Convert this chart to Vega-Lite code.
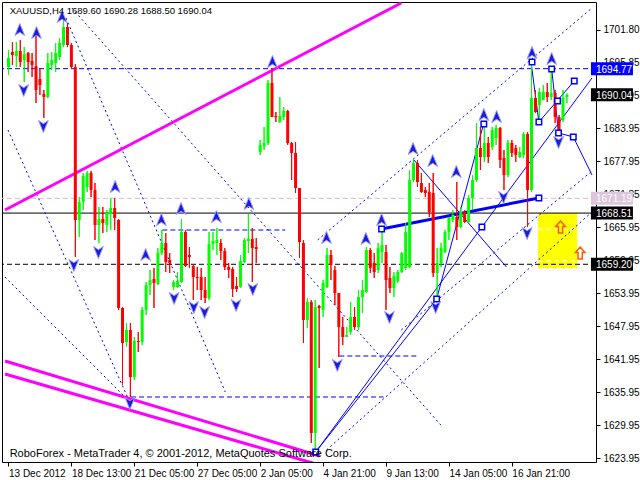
{
  "$schema": "https://vega.github.io/schema/vega-lite/v6.json",
  "width": 594,
  "height": 460,
  "autosize": {"type": "none"},
  "padding": {"left": 2, "top": 2, "right": 44, "bottom": 18},
  "background": "white",
  "config": {"view": {"stroke": "black", "strokeWidth": 1}},
  "resolve": {"axis": {"x": "independent", "y": "independent"}},
  "datasets": {
    "candles": [
      {"i":0,"o":1695.07,"h":1698.16,"l":1693.61,"c":1696.70},
      {"i":1,"o":1697.80,"h":1699.61,"l":1695.43,"c":1697.25},
      {"i":2,"o":1697.07,"h":1699.61,"l":1695.07,"c":1697.98},
      {"i":3,"o":1697.98,"h":1699.98,"l":1695.07,"c":1695.98},
      {"i":4,"o":1696.34,"h":1698.70,"l":1692.34,"c":1697.43},
      {"i":5,"o":1697.61,"h":1697.80,"l":1694.16,"c":1695.98},
      {"i":6,"o":1696.16,"h":1697.61,"l":1693.25,"c":1695.43},
      {"i":7,"o":1695.25,"h":1701.25,"l":1688.52,"c":1690.89},
      {"i":8,"o":1692.89,"h":1694.89,"l":1689.98,"c":1691.80},
      {"i":9,"o":1690.16,"h":1690.89,"l":1685.80,"c":1689.61},
      {"i":10,"o":1689.61,"h":1697.61,"l":1689.40,"c":1695.80},
      {"i":11,"o":1695.43,"h":1697.80,"l":1694.52,"c":1696.34},
      {"i":12,"o":1695.80,"h":1699.43,"l":1694.16,"c":1697.61},
      {"i":13,"o":1696.89,"h":1700.34,"l":1696.34,"c":1699.43},
      {"i":14,"o":1699.07,"h":1703.60,"l":1698.70,"c":1702.34},
      {"i":15,"o":1702.34,"h":1703.07,"l":1698.70,"c":1699.07},
      {"i":16,"o":1699.07,"h":1699.43,"l":1694.89,"c":1695.07},
      {"i":17,"o":1695.07,"h":1695.60,"l":1660.52,"c":1667.25},
      {"i":18,"o":1667.25,"h":1671.43,"l":1664.16,"c":1670.52},
      {"i":19,"o":1670.52,"h":1675.80,"l":1669.07,"c":1675.25},
      {"i":20,"o":1673.25,"h":1676.16,"l":1672.34,"c":1675.80},
      {"i":21,"o":1675.80,"h":1676.16,"l":1671.43,"c":1672.70},
      {"i":22,"o":1672.70,"h":1673.98,"l":1663.61,"c":1666.34},
      {"i":23,"o":1666.34,"h":1669.61,"l":1663.07,"c":1667.43},
      {"i":24,"o":1667.43,"h":1669.61,"l":1664.89,"c":1666.70},
      {"i":25,"o":1666.34,"h":1669.07,"l":1665.07,"c":1668.52},
      {"i":26,"o":1668.34,"h":1671.25,"l":1665.43,"c":1669.43},
      {"i":27,"o":1669.43,"h":1671.25,"l":1665.43,"c":1667.61},
      {"i":28,"o":1667.25,"h":1667.43,"l":1650.89,"c":1651.25},
      {"i":29,"o":1651.25,"h":1651.43,"l":1637.25,"c":1644.89},
      {"i":30,"o":1645.07,"h":1648.52,"l":1644.16,"c":1647.25},
      {"i":31,"o":1647.25,"h":1648.52,"l":1635.07,"c":1638.70},
      {"i":32,"o":1638.70,"h":1645.98,"l":1638.16,"c":1645.25},
      {"i":33,"o":1645.25,"h":1646.89,"l":1643.25,"c":1645.07},
      {"i":34,"o":1645.07,"h":1651.43,"l":1644.52,"c":1650.89},
      {"i":35,"o":1650.89,"h":1655.98,"l":1649.98,"c":1655.43},
      {"i":36,"o":1655.43,"h":1658.16,"l":1653.61,"c":1656.34},
      {"i":37,"o":1656.52,"h":1658.52,"l":1651.25,"c":1655.80},
      {"i":38,"o":1655.61,"h":1662.16,"l":1655.43,"c":1661.25},
      {"i":39,"o":1661.25,"h":1665.43,"l":1660.89,"c":1663.07},
      {"i":40,"o":1663.07,"h":1664.89,"l":1657.80,"c":1659.61},
      {"i":41,"o":1659.98,"h":1661.25,"l":1657.61,"c":1659.43},
      {"i":42,"o":1655.07,"h":1656.34,"l":1654.52,"c":1655.98},
      {"i":43,"o":1655.07,"h":1657.80,"l":1654.89,"c":1656.16},
      {"i":44,"o":1655.98,"h":1667.43,"l":1655.80,"c":1665.07},
      {"i":45,"o":1665.07,"h":1665.43,"l":1658.70,"c":1658.89},
      {"i":46,"o":1660.89,"h":1662.34,"l":1658.52,"c":1660.52},
      {"i":47,"o":1658.89,"h":1659.07,"l":1652.70,"c":1656.89},
      {"i":48,"o":1656.89,"h":1658.70,"l":1654.52,"c":1656.70},
      {"i":49,"o":1656.89,"h":1658.52,"l":1652.70,"c":1654.52},
      {"i":50,"o":1654.52,"h":1656.89,"l":1652.16,"c":1653.07},
      {"i":51,"o":1653.07,"h":1665.07,"l":1652.70,"c":1662.89},
      {"i":52,"o":1662.89,"h":1665.07,"l":1661.80,"c":1663.43},
      {"i":53,"o":1663.07,"h":1665.80,"l":1660.89,"c":1663.61},
      {"i":54,"o":1663.07,"h":1663.80,"l":1659.98,"c":1661.61},
      {"i":55,"o":1661.61,"h":1662.16,"l":1658.16,"c":1658.70},
      {"i":56,"o":1658.70,"h":1659.43,"l":1656.70,"c":1658.16},
      {"i":57,"o":1658.34,"h":1658.70,"l":1653.25,"c":1654.70},
      {"i":58,"o":1655.25,"h":1656.89,"l":1654.16,"c":1654.70},
      {"i":59,"o":1655.07,"h":1660.89,"l":1654.89,"c":1659.80},
      {"i":60,"o":1659.61,"h":1663.98,"l":1659.43,"c":1663.61},
      {"i":61,"o":1663.43,"h":1668.34,"l":1661.25,"c":1663.80},
      {"i":62,"o":1663.80,"h":1665.80,"l":1655.98,"c":1662.16},
      {"i":63,"o":1662.34,"h":1663.98,"l":1659.43,"c":1661.98},
      {"i":64,"o":1679.61,"h":1681.80,"l":1679.07,"c":1680.89},
      {"i":65,"o":1680.70,"h":1684.16,"l":1679.98,"c":1681.25},
      {"i":66,"o":1681.25,"h":1692.70,"l":1680.89,"c":1692.16},
      {"i":67,"o":1692.16,"h":1694.89,"l":1685.98,"c":1685.98},
      {"i":68,"o":1686.16,"h":1686.89,"l":1685.07,"c":1685.98},
      {"i":69,"o":1685.07,"h":1689.61,"l":1684.89,"c":1686.16},
      {"i":70,"o":1685.98,"h":1687.80,"l":1685.43,"c":1687.07},
      {"i":71,"o":1687.07,"h":1687.25,"l":1680.89,"c":1681.25},
      {"i":72,"o":1681.25,"h":1681.43,"l":1674.52,"c":1679.43},
      {"i":73,"o":1679.43,"h":1681.43,"l":1672.16,"c":1673.07},
      {"i":74,"o":1673.07,"h":1673.07,"l":1660.34,"c":1663.25},
      {"i":75,"o":1663.07,"h":1663.61,"l":1644.89,"c":1649.07},
      {"i":76,"o":1649.07,"h":1653.07,"l":1647.61,"c":1652.34},
      {"i":77,"o":1652.34,"h":1652.70,"l":1626.70,"c":1628.52},
      {"i":78,"o":1628.52,"h":1652.70,"l":1625.43,"c":1651.43},
      {"i":79,"o":1651.61,"h":1651.80,"l":1640.34,"c":1651.25},
      {"i":80,"o":1650.89,"h":1656.34,"l":1649.61,"c":1655.80},
      {"i":81,"o":1655.07,"h":1662.16,"l":1654.89,"c":1660.89},
      {"i":82,"o":1660.89,"h":1661.80,"l":1656.34,"c":1659.07},
      {"i":83,"o":1658.16,"h":1658.89,"l":1651.80,"c":1653.98},
      {"i":84,"o":1653.98,"h":1653.98,"l":1642.34,"c":1647.80},
      {"i":85,"o":1647.80,"h":1649.61,"l":1644.52,"c":1645.98},
      {"i":86,"o":1645.98,"h":1647.80,"l":1645.98,"c":1646.34},
      {"i":87,"o":1646.89,"h":1652.34,"l":1646.34,"c":1649.61},
      {"i":88,"o":1649.61,"h":1651.43,"l":1647.25,"c":1647.80},
      {"i":89,"o":1647.80,"h":1654.52,"l":1647.25,"c":1653.25},
      {"i":90,"o":1653.25,"h":1656.34,"l":1650.34,"c":1654.52},
      {"i":91,"o":1654.16,"h":1662.34,"l":1653.98,"c":1661.80},
      {"i":92,"o":1661.80,"h":1662.16,"l":1657.61,"c":1658.52},
      {"i":93,"o":1659.43,"h":1661.25,"l":1656.70,"c":1657.80},
      {"i":94,"o":1658.16,"h":1663.07,"l":1657.61,"c":1662.16},
      {"i":95,"o":1661.43,"h":1665.43,"l":1659.43,"c":1662.70},
      {"i":96,"o":1661.43,"h":1662.70,"l":1650.89,"c":1656.34},
      {"i":97,"o":1656.70,"h":1658.70,"l":1653.98,"c":1654.89},
      {"i":98,"o":1654.89,"h":1657.80,"l":1653.25,"c":1657.07},
      {"i":99,"o":1656.16,"h":1658.16,"l":1655.80,"c":1657.80},
      {"i":100,"o":1657.80,"h":1661.43,"l":1657.61,"c":1661.25},
      {"i":101,"o":1658.52,"h":1666.70,"l":1658.16,"c":1665.07},
      {"i":102,"o":1658.70,"h":1676.34,"l":1658.52,"c":1674.52},
      {"i":103,"o":1674.52,"h":1678.34,"l":1674.16,"c":1677.61},
      {"i":104,"o":1677.61,"h":1678.16,"l":1673.25,"c":1674.16},
      {"i":105,"o":1673.98,"h":1675.80,"l":1672.16,"c":1672.34},
      {"i":106,"o":1672.70,"h":1673.25,"l":1671.43,"c":1672.16},
      {"i":107,"o":1672.34,"h":1673.98,"l":1667.80,"c":1668.70},
      {"i":108,"o":1672.16,"h":1675.80,"l":1656.89,"c":1657.61},
      {"i":109,"o":1657.61,"h":1662.16,"l":1653.25,"c":1659.43},
      {"i":110,"o":1659.43,"h":1663.07,"l":1658.70,"c":1662.16},
      {"i":111,"o":1661.43,"h":1665.43,"l":1661.25,"c":1665.07},
      {"i":112,"o":1665.07,"h":1667.80,"l":1663.61,"c":1667.61},
      {"i":113,"o":1667.25,"h":1669.07,"l":1666.89,"c":1668.16},
      {"i":114,"o":1667.80,"h":1674.16,"l":1663.61,"c":1665.98},
      {"i":115,"o":1665.98,"h":1669.61,"l":1665.80,"c":1668.70},
      {"i":116,"o":1668.70,"h":1669.07,"l":1666.70,"c":1666.89},
      {"i":117,"o":1666.89,"h":1671.80,"l":1666.70,"c":1671.25},
      {"i":118,"o":1671.25,"h":1675.43,"l":1669.07,"c":1674.52},
      {"i":119,"o":1674.52,"h":1684.89,"l":1674.16,"c":1680.34},
      {"i":120,"o":1680.34,"h":1684.16,"l":1676.34,"c":1678.70},
      {"i":121,"o":1678.70,"h":1684.16,"l":1677.80,"c":1681.25},
      {"i":122,"o":1681.25,"h":1682.34,"l":1677.61,"c":1678.70},
      {"i":123,"o":1680.52,"h":1684.16,"l":1679.98,"c":1683.61},
      {"i":124,"o":1682.16,"h":1684.52,"l":1680.89,"c":1683.98},
      {"i":125,"o":1683.98,"h":1684.16,"l":1676.70,"c":1678.16},
      {"i":126,"o":1678.52,"h":1679.98,"l":1672.70,"c":1675.43},
      {"i":127,"o":1675.43,"h":1681.80,"l":1675.07,"c":1681.25},
      {"i":128,"o":1681.25,"h":1681.80,"l":1678.70,"c":1679.43},
      {"i":129,"o":1680.34,"h":1680.89,"l":1677.80,"c":1679.07},
      {"i":130,"o":1678.70,"h":1680.52,"l":1678.52,"c":1679.61},
      {"i":131,"o":1679.07,"h":1683.25,"l":1678.52,"c":1682.89},
      {"i":132,"o":1682.89,"h":1683.25,"l":1665.98,"c":1672.70},
      {"i":133,"o":1672.70,"h":1695.80,"l":1672.34,"c":1689.43},
      {"i":134,"o":1689.43,"h":1690.89,"l":1686.70,"c":1686.89},
      {"i":135,"o":1688.16,"h":1691.25,"l":1685.07,"c":1690.52},
      {"i":136,"o":1689.07,"h":1691.80,"l":1689.07,"c":1690.52},
      {"i":137,"o":1690.52,"h":1692.16,"l":1688.70,"c":1689.61},
      {"i":138,"o":1689.61,"h":1695.07,"l":1689.07,"c":1690.34},
      {"i":139,"o":1690.34,"h":1690.89,"l":1684.89,"c":1685.98},
      {"i":140,"o":1685.98,"h":1686.34,"l":1683.07,"c":1683.25},
      {"i":141,"o":1685.43,"h":1690.89,"l":1685.07,"c":1689.43},
      {"i":142,"o":1689.60,"h":1690.28,"l":1688.50,"c":1690.04}
    ],
    "upArrows": [
      {"i":2.875,"p":1701.80},{"i":7.125,"p":1701.25},{"i":13.625,"p":1704.16},
      {"i":27.125,"p":1673.25},{"i":34.875,"p":1660.89},{"i":38.875,"p":1667.25},
      {"i":43.875,"p":1669.25},{"i":52.875,"p":1667.80},{"i":61.125,"p":1670.16},
      {"i":67.125,"p":1695.98},{"i":80.875,"p":1663.98},{"i":90.875,"p":1663.80},
      {"i":94.875,"p":1667.25},{"i":102.875,"p":1680.16},{"i":107.875,"p":1677.98},
      {"i":113.875,"p":1675.98},{"i":120.875,"p":1686.34},{"i":124.125,"p":1685.98},
      {"i":133.125,"p":1697.61},{"i":138.125,"p":1696.52}
    ],
    "downArrows": [
      {"i":3.875,"p":1690.89},{"i":8.875,"p":1684.34},{"i":16.625,"p":1659.07},
      {"i":22.875,"p":1661.43},{"i":30.875,"p":1633.98},{"i":42.125,"p":1653.07},
      {"i":47.125,"p":1651.43},{"i":49.875,"p":1650.52},{"i":57.875,"p":1651.80},
      {"i":62.125,"p":1654.70},{"i":83.625,"p":1640.89},{"i":96.875,"p":1649.61},
      {"i":108.625,"p":1651.43},{"i":125.875,"p":1671.43},{"i":131.875,"p":1664.89},
      {"i":139.875,"p":1681.43}
    ],
    "dotted": [
      {"i":14.625,"p":1703.98,"i2":55.125,"p2":1635.98},
      {"i":16.125,"p":1705.80,"i2":110.375,"p2":1629.62},
      {"i":-0.125,"p":1683.62,"i2":30.375,"p2":1634.89},
      {"i":-0.875,"p":1656.89,"i2":30.375,"p2":1634.53},
      {"i":78.625,"p":1663.62,"i2":148.375,"p2":1705.80},
      {"i":99.875,"p":1647.25,"i2":148.375,"p2":1676.16},
      {"i":80.875,"p":1625.43,"i2":148.375,"p2":1668.71}
    ],
    "dashedSeg": [
      {"i":39.125,"p":1665.43,"i2":70.375},
      {"i":29.125,"p":1635.07,"i2":95.375},
      {"i":84.125,"p":1642.52,"i2":104.125}
    ],
    "magenta": [
      {"i":-0.875,"p":1669.07,"i2":99.875,"p2":1706.71},
      {"i":-0.875,"p":1641.62,"i2":79.125,"p2":1624.35},
      {"i":-0.875,"p":1639.25,"i2":79.125,"p2":1622.70}
    ],
    "thin": [
      {"i":78.125,"p":1625.07,"i2":108.875,"p2":1652.89},
      {"i":108.875,"p":1652.89,"i2":120.875,"p2":1684.89},
      {"i":102.875,"p":1678.35,"i2":126.625,"p2":1658.71},
      {"i":78.125,"p":1625.07,"i2":148.375,"p2":1693.07},
      {"i":132.875,"p":1695.98,"i2":134.875,"p2":1685.07},
      {"i":134.875,"p":1685.07,"i2":143.875,"p2":1692.53},
      {"i":138.125,"p":1694.71,"i2":139.875,"p2":1683.07},
      {"i":139.875,"p":1683.07,"i2":143.625,"p2":1682.35},
      {"i":143.625,"p":1682.35,"i2":148.375,"p2":1675.44}
    ],
    "thick": [
      {"i":94.875,"p":1665.62,"i2":134.875,"p2":1671.25}
    ],
    "squares": [
      {"i":133.125,"p":1695.98},{"i":134.875,"p":1685.07},{"i":138.125,"p":1694.71},
      {"i":139.625,"p":1688.89},{"i":139.875,"p":1683.07},{"i":143.875,"p":1692.53},
      {"i":143.625,"p":1682.35},{"i":120.875,"p":1684.71},{"i":108.875,"p":1652.89},
      {"i":120.375,"p":1665.98},{"i":94.875,"p":1665.62},{"i":134.875,"p":1671.25},
      {"i":78.125,"p":1625.07}
    ],
    "boxes": [
      {"p":1694.77,"label":"1694.77","kind":"blue"},
      {"p":1690.04,"label":"1690.04","kind":"black"},
      {"p":1671.19,"label":"1671.19","kind":"mauve"},
      {"p":1668.51,"label":"1668.51","kind":"black"},
      {"p":1659.20,"label":"1659.20","kind":"black"}
    ]
  },
  "layer": [
    {
      "data": {"name": "candles"},
      "mark": {"type": "rule", "strokeWidth": 1},
      "encoding": {
        "x": {"field":"i","type":"quantitative","scale":{"domain":[-0.375,148.125],"nice":false,"zero":false},
          "axis": {"orient":"bottom","values":[0,16,32,48,64,80,96,112,128],"title":null,"grid":false,"domain":false,
            "tickSize":4,"tickColor":"#000000","labelAlign":"left","labelBaseline":"top","labelPadding":2,
            "labelFont":"Liberation Sans","labelFontSize":10,"labelColor":"#000000","labelFlush":false,"labelOverlap":false,"labelBound":false,
            "labelExpr":"{'0':'13 Dec 2012','16':'18 Dec 13:00','32':'21 Dec 05:00','48':'27 Dec 05:00','64':'2 Jan 05:00','80':'4 Jan 21:00','96':'9 Jan 13:00','112':'14 Jan 05:00','128':'16 Jan 21:00'}[datum.value]"}},
        "y": {"field":"l","type":"quantitative","scale":{"domain":[1623.25,1706.89],"nice":false,"zero":false},
          "axis": {"orient":"right","values":[1623.95,1629.95,1635.95,1641.95,1647.95,1653.95,1659.95,1665.95,1671.85,1677.95,1683.95,1689.95,1695.85,1701.80],
            "format":".2f","title":null,"grid":false,"domain":false,"tickSize":4,"tickColor":"#000000","labelPadding":3,
            "labelFont":"Liberation Sans","labelFontSize":10,"labelColor":"#000000","labelFlush":false,"labelOverlap":false,"labelBound":false}},
        "y2": {"field":"h"},
        "color": {"condition": {"test": "datum.c > datum.o", "value": "#00ff00"}, "value": "#ff0000"}
      }
    },
    {
      "data": {"values": [{"i":134.625,"i2":144.625,"p":1668.51,"p2":1658.5}]},
      "mark": {"type": "rect", "color": "#ffff00"},
      "encoding": {
        "x": {"field":"i","type":"quantitative","scale":{"domain":[-0.375,148.125],"nice":false,"zero":false},"axis":null},
        "x2": {"field":"i2"},
        "y": {"field":"p","type":"quantitative","scale":{"domain":[1623.25,1706.89],"nice":false,"zero":false},"axis":null},
        "y2": {"field":"p2"}
      }
    },
    {
      "data": {"values": [{"p":1694.77}]},
      "mark": {"type": "rule", "color": "#0000ff", "strokeDash": [5,3]},
      "encoding": {"y": {"field":"p","type":"quantitative","scale":{"domain":[1623.25,1706.89],"nice":false,"zero":false},"axis":null}}
    },
    {
      "data": {"values": [{"p":1671.19}]},
      "mark": {"type": "rule", "color": "#d8bcd2", "strokeDash": [5,3]},
      "encoding": {"y": {"field":"p","type":"quantitative","scale":{"domain":[1623.25,1706.89],"nice":false,"zero":false},"axis":null}}
    },
    {
      "data": {"values": [{"p":1668.51}]},
      "mark": {"type": "rule", "color": "#000000"},
      "encoding": {"y": {"field":"p","type":"quantitative","scale":{"domain":[1623.25,1706.89],"nice":false,"zero":false},"axis":null}}
    },
    {
      "data": {"values": [{"p":1659.20}]},
      "mark": {"type": "rule", "color": "#000000", "strokeDash": [5,3]},
      "encoding": {"y": {"field":"p","type":"quantitative","scale":{"domain":[1623.25,1706.89],"nice":false,"zero":false},"axis":null}}
    },
    {
      "data": {"values": [{"i":134.625,"i2":144.625,"p":1665.6},{"i":134.625,"i2":144.625,"p":1659.8}]},
      "mark": {"type": "rule", "color": "#ffffff", "strokeDash": [5,3]},
      "encoding": {
        "x": {"field":"i","type":"quantitative","scale":{"domain":[-0.375,148.125],"nice":false,"zero":false},"axis":null},
        "x2": {"field":"i2"},
        "y": {"field":"p","type":"quantitative","scale":{"domain":[1623.25,1706.89],"nice":false,"zero":false},"axis":null}
      }
    },
    {
      "data": {"name": "dashedSeg"},
      "mark": {"type": "rule", "color": "#0000ff", "strokeDash": [5,3]},
      "encoding": {
        "x": {"field":"i","type":"quantitative","scale":{"domain":[-0.375,148.125],"nice":false,"zero":false},"axis":null},
        "x2": {"field":"i2"},
        "y": {"field":"p","type":"quantitative","scale":{"domain":[1623.25,1706.89],"nice":false,"zero":false},"axis":null}
      }
    },
    {
      "data": {"name": "dotted"},
      "mark": {"type": "rule", "color": "#0000ff", "strokeDash": [2,3], "clip": true},
      "encoding": {
        "x": {"field":"i","type":"quantitative","scale":{"domain":[-0.375,148.125],"nice":false,"zero":false},"axis":null},
        "x2": {"field":"i2"},
        "y": {"field":"p","type":"quantitative","scale":{"domain":[1623.25,1706.89],"nice":false,"zero":false},"axis":null},
        "y2": {"field":"p2"}
      }
    },
    {
      "data": {"name": "magenta"},
      "mark": {"type": "rule", "color": "#ff00ff", "strokeWidth": 3, "clip": true},
      "encoding": {
        "x": {"field":"i","type":"quantitative","scale":{"domain":[-0.375,148.125],"nice":false,"zero":false},"axis":null},
        "x2": {"field":"i2"},
        "y": {"field":"p","type":"quantitative","scale":{"domain":[1623.25,1706.89],"nice":false,"zero":false},"axis":null},
        "y2": {"field":"p2"}
      }
    },
    {
      "data": {"name": "thin"},
      "mark": {"type": "rule", "color": "#0000ff", "strokeWidth": 1, "clip": true},
      "encoding": {
        "x": {"field":"i","type":"quantitative","scale":{"domain":[-0.375,148.125],"nice":false,"zero":false},"axis":null},
        "x2": {"field":"i2"},
        "y": {"field":"p","type":"quantitative","scale":{"domain":[1623.25,1706.89],"nice":false,"zero":false},"axis":null},
        "y2": {"field":"p2"}
      }
    },
    {
      "data": {"name": "thick"},
      "mark": {"type": "rule", "color": "#0000ff", "strokeWidth": 3, "clip": true},
      "encoding": {
        "x": {"field":"i","type":"quantitative","scale":{"domain":[-0.375,148.125],"nice":false,"zero":false},"axis":null},
        "x2": {"field":"i2"},
        "y": {"field":"p","type":"quantitative","scale":{"domain":[1623.25,1706.89],"nice":false,"zero":false},"axis":null},
        "y2": {"field":"p2"}
      }
    },
    {
      "data": {"name": "candles"},
      "mark": {"type": "rule", "strokeWidth": 1},
      "encoding": {
        "x": {"field":"i","type":"quantitative","scale":{"domain":[-0.375,148.125],"nice":false,"zero":false},"axis":null},
        "y": {"field":"l","type":"quantitative","scale":{"domain":[1623.25,1706.89],"nice":false,"zero":false},"axis":null},
        "y2": {"field":"h"},
        "color": {"condition": {"test": "datum.c > datum.o", "value": "#00ff00"}, "value": "#ff0000"}
      }
    },
    {
      "data": {"name": "candles"},
      "mark": {"type": "bar", "size": 3},
      "encoding": {
        "x": {"field":"i","type":"quantitative","scale":{"domain":[-0.375,148.125],"nice":false,"zero":false},"axis":null},
        "y": {"field":"o","type":"quantitative","scale":{"domain":[1623.25,1706.89],"nice":false,"zero":false},"axis":null},
        "y2": {"field":"c"},
        "color": {"condition": {"test": "datum.c > datum.o", "value": "#00ff00"}, "value": "#ff0000"}
      }
    },
    {
      "data": {"name": "squares"},
      "mark": {"type": "point", "shape": "square", "size": 30, "filled": false, "stroke": "#0000ff", "strokeWidth": 1.5, "fill": "#ffffff", "fillOpacity": 1},
      "encoding": {
        "x": {"field":"i","type":"quantitative","scale":{"domain":[-0.375,148.125],"nice":false,"zero":false},"axis":null},
        "y": {"field":"p","type":"quantitative","scale":{"domain":[1623.25,1706.89],"nice":false,"zero":false},"axis":null}
      }
    },
    {
      "data": {"name": "upArrows"},
      "mark": {"type": "point", "shape": "M0,-1L0.75,0.85L0,0.35L-0.75,0.85Z", "size": 169, "filled": true, "fill": "#1c1cd8", "stroke": "#9a9aff", "strokeWidth": 1, "opacity": 1},
      "encoding": {
        "x": {"field":"i","type":"quantitative","scale":{"domain":[-0.375,148.125],"nice":false,"zero":false},"axis":null},
        "y": {"field":"p","type":"quantitative","scale":{"domain":[1623.25,1706.89],"nice":false,"zero":false},"axis":null}
      }
    },
    {
      "data": {"name": "downArrows"},
      "mark": {"type": "point", "shape": "M0,1L0.75,-0.85L0,-0.35L-0.75,-0.85Z", "size": 169, "filled": true, "fill": "#1c1cd8", "stroke": "#9a9aff", "strokeWidth": 1, "opacity": 1},
      "encoding": {
        "x": {"field":"i","type":"quantitative","scale":{"domain":[-0.375,148.125],"nice":false,"zero":false},"axis":null},
        "y": {"field":"p","type":"quantitative","scale":{"domain":[1623.25,1706.89],"nice":false,"zero":false},"axis":null}
      }
    },
    {
      "data": {"values": [{"i":140.375,"p":1665.98},{"i":145.375,"p":1661.25}]},
      "mark": {"type": "point", "shape": "M0,-1L0.8,-0.1L0.35,-0.1L0.35,1L-0.35,1L-0.35,-0.1L-0.8,-0.1Z", "size": 144, "filled": false, "stroke": "#ff5a00", "strokeWidth": 1.5, "opacity": 1},
      "encoding": {
        "x": {"field":"i","type":"quantitative","scale":{"domain":[-0.375,148.125],"nice":false,"zero":false},"axis":null},
        "y": {"field":"p","type":"quantitative","scale":{"domain":[1623.25,1706.89],"nice":false,"zero":false},"axis":null}
      }
    },
    {
      "data": {"name": "boxes"},
      "mark": {"type": "rect", "width": 42, "height": 13},
      "encoding": {
        "x": {"datum": 153.45, "type":"quantitative","scale":{"domain":[-0.375,148.125],"nice":false,"zero":false},"axis":null},
        "y": {"field":"p","type":"quantitative","scale":{"domain":[1623.25,1706.89],"nice":false,"zero":false},"axis":null},
        "color": {"field":"kind","type":"nominal","scale":{"domain":["blue","black","mauve"],"range":["#0000ff","#000000","#dcc6dc"]},"legend":null}
      }
    },
    {
      "data": {"name": "boxes"},
      "mark": {"type": "text", "align": "left", "baseline": "middle", "dx": 5, "dy": 1, "font": "Liberation Sans", "fontSize": 10, "color": "#ffffff"},
      "encoding": {
        "x": {"datum": 148.125, "type":"quantitative","scale":{"domain":[-0.375,148.125],"nice":false,"zero":false},"axis":null},
        "y": {"field":"p","type":"quantitative","scale":{"domain":[1623.25,1706.89],"nice":false,"zero":false},"axis":null},
        "text": {"field":"label"}
      }
    },
    {
      "data": {"values": [
        {"i":0.3,"p":1704.7,"t":"XAUUSD,H4  1689.60 1690.28 1688.50 1690.04","s":"title"}
      ]},
      "mark": {"type": "text", "align": "left", "baseline": "alphabetic", "font": "Liberation Sans", "fontSize": 9.5, "color": "#000000"},
      "encoding": {
        "x": {"field":"i","type":"quantitative","scale":{"domain":[-0.375,148.125],"nice":false,"zero":false},"axis":null},
        "y": {"field":"p","type":"quantitative","scale":{"domain":[1623.25,1706.89],"nice":false,"zero":false},"axis":null},
        "text": {"field":"t"}
      }
    },
    {
      "data": {"values": [
        {"i":0.3,"p":1624.1,"t":"RoboForex - MetaTrader 4, © 2001-2012, MetaQuotes Software Corp."}
      ]},
      "mark": {"type": "text", "align": "left", "baseline": "alphabetic", "font": "Liberation Sans", "fontSize": 11, "color": "#000000"},
      "encoding": {
        "x": {"field":"i","type":"quantitative","scale":{"domain":[-0.375,148.125],"nice":false,"zero":false},"axis":null},
        "y": {"field":"p","type":"quantitative","scale":{"domain":[1623.25,1706.89],"nice":false,"zero":false},"axis":null},
        "text": {"field":"t"}
      }
    }
  ]
}
